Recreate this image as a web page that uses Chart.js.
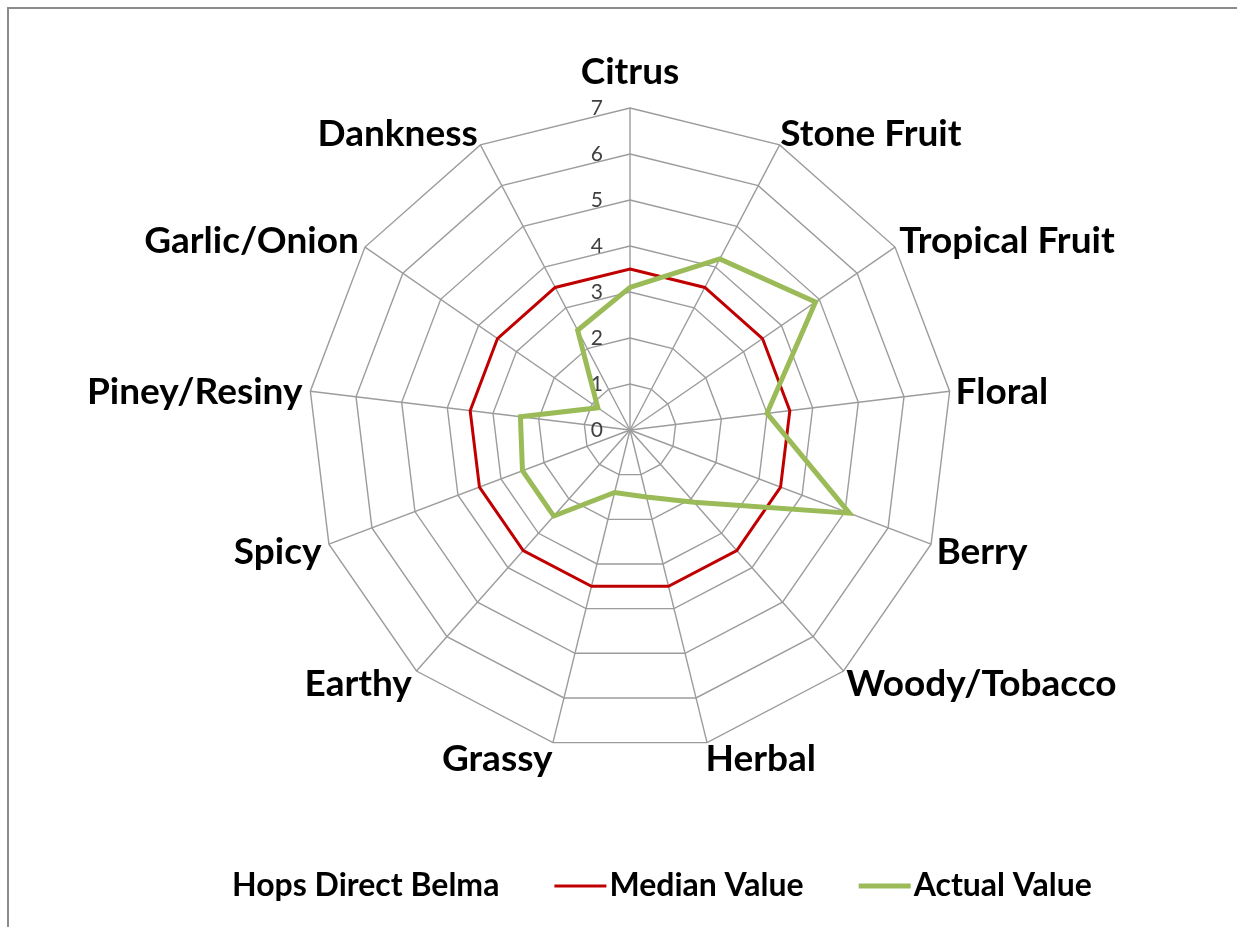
<!DOCTYPE html>
<html>
<head>
<meta charset="utf-8">
<script src="https://cdn.jsdelivr.net/npm/chart.js@4"></script>
<style>
  html, body { margin: 0; padding: 0; background: #fff; }
  #wrap { position: absolute; left: 0; top: 0; width: 1237px; height: 927px; }
  #frame { position: absolute; left: 7px; top: 7px; right: 0; bottom: 0;
           border-top: 2px solid #8c8c8c; border-left: 2px solid #8c8c8c; pointer-events: none; }
</style>
</head>
<body>
<div id="wrap"><canvas id="chart"></canvas></div>
<div id="frame"></div>
<script>
// flavour categories, clockwise from the top
const categories = ['Citrus', 'Stone Fruit', 'Tropical Fruit', 'Floral', 'Berry', 'Woody/Tobacco',
    'Herbal', 'Grassy', 'Earthy', 'Spicy', 'Piney/Resiny', 'Garlic/Onion', 'Dankness'];
const medianValues = [3.5, 3.5, 3.5, 3.5, 3.5, 3.5, 3.5, 3.5, 3.5, 3.5, 3.5, 3.5, 3.5];
const actualValues = [3.1, 4.2, 4.9, 3.0, 5.1, 2.1, 1.5, 1.4, 2.5, 2.5, 2.4, 0.85, 2.45];
const tickLabels = ['0', '1', '2', '3', '4', '5', '6', '7'];

const FONT = 'Lato, "Open Sans", sans-serif';

// tick labels sit left of the vertical axis, like Excel does it
const sideTicks = {
    id: 'sideTicks',
    beforeDatasetsDraw(chart) {
        const scale = chart.scales.r;
        const ctx = chart.ctx;
        ctx.save();
        ctx.font = '21px ' + FONT;
        ctx.fillStyle = '#404040';
        ctx.textAlign = 'right';
        ctx.textBaseline = 'middle';
        scale.ticks.forEach((t, i) => {
            const d = scale.getDistanceFromCenterForValue(t.value);
            ctx.fillText(tickLabels[i] ?? String(t.value), scale.xCenter - 27, scale.yCenter - d);
        });
        ctx.restore();
    }
};

// category names placed Excel style: vertically centred on the spoke end
const excelPointLabels = {
    id: 'excelPointLabels',
    afterDraw(chart) {
        const scale = chart.scales.r;
        const ctx = chart.ctx;
        ctx.save();
        ctx.font = 'bold 37px ' + FONT;
        ctx.fillStyle = '#000';
        ctx.textBaseline = 'middle';
        chart.data.labels.forEach((lbl, i) => {
            const p = scale.getPointPosition(i, scale.drawingArea + 10);
            const a = scale.getIndexAngle(i);
            const deg = Math.round(a * 180 / Math.PI) % 360;
            let x = p.x;
            let y = p.y + 2.5 - 4.5 * Math.cos(a);
            if (deg === 0) { ctx.textAlign = 'center'; y = p.y - 26; }
            else if (deg === 180) { ctx.textAlign = 'center'; y = p.y + 26; }
            else if (deg < 180) { ctx.textAlign = 'left'; x -= 4; }
            else { ctx.textAlign = 'right'; x += 2; }
            ctx.fillText(lbl, x, y);
        });
        ctx.restore();
    }
};

// Excel style legend: the first series has no line, swatches hug the text
const excelLegend = {
    id: 'excelLegend',
    afterDraw(chart) {
        const ctx = chart.ctx;
        const sets = chart.data.datasets;
        const swatch = 52, gapIn = 3, gapOut = 55;
        ctx.save();
        ctx.font = 'bold 32px ' + FONT;
        ctx.textBaseline = 'middle';
        const items = sets.map(ds => ({
            ds,
            sw: ds.borderWidth > 0 ? swatch + gapIn : 0,
            tw: ctx.measureText(ds.label).width
        }));
        const total = items.reduce((s, it) => s + it.sw + it.tw, 0) + gapOut * (items.length - 1);
        let x = 662 - total / 2;
        const y = 886;
        items.forEach(it => {
            if (it.sw) {
                ctx.strokeStyle = it.ds.borderColor;
                ctx.lineWidth = it.ds.borderWidth;
                ctx.beginPath();
                ctx.moveTo(x, y);
                ctx.lineTo(x + swatch, y);
                ctx.stroke();
                x += it.sw;
            }
            ctx.fillStyle = '#000';
            ctx.fillText(it.ds.label, x, y);
            x += it.tw + gapOut;
        });
        ctx.restore();
    }
};

const ctx = document.getElementById('chart').getContext('2d');
new Chart(ctx, {
    type: 'radar',
    data: {
        labels: categories,
        datasets: [
            { label: 'Hops Direct Belma', data: [], borderWidth: 0, borderColor: 'rgba(0,0,0,0)', pointRadius: 0, order: 2 },
            { label: 'Median Value', data: medianValues, borderColor: '#c00000', borderWidth: 3,
              backgroundColor: 'rgba(0,0,0,0)', fill: false, pointRadius: 0, order: 1 },
            { label: 'Actual Value', data: actualValues, borderColor: '#9bbb59', borderWidth: 5,
              backgroundColor: 'rgba(0,0,0,0)', fill: false, pointRadius: 0, order: 0 }
        ]
    },
    options: {
        responsive: true,
        maintainAspectRatio: false,
        animation: false,
        // plot area 644x644 -> centre (630, 430), radius 322
        layout: { padding: { left: 308, right: 285, top: 108, bottom: 175 } },
        elements: { line: { tension: 0, borderJoinStyle: 'miter' } },
        scales: {
            r: {
                min: 0,
                max: 7,
                beginAtZero: true,
                ticks: { stepSize: 1, display: false },
                grid: { color: '#9c9c9c', lineWidth: 1.4 },
                angleLines: { color: '#9c9c9c', lineWidth: 1.4 },
                pointLabels: { display: false }
            }
        },
        plugins: {
            legend: { display: false },
            tooltip: { enabled: false }
        }
    },
    plugins: [sideTicks, excelPointLabels, excelLegend]
});
</script>
</body>
</html>
